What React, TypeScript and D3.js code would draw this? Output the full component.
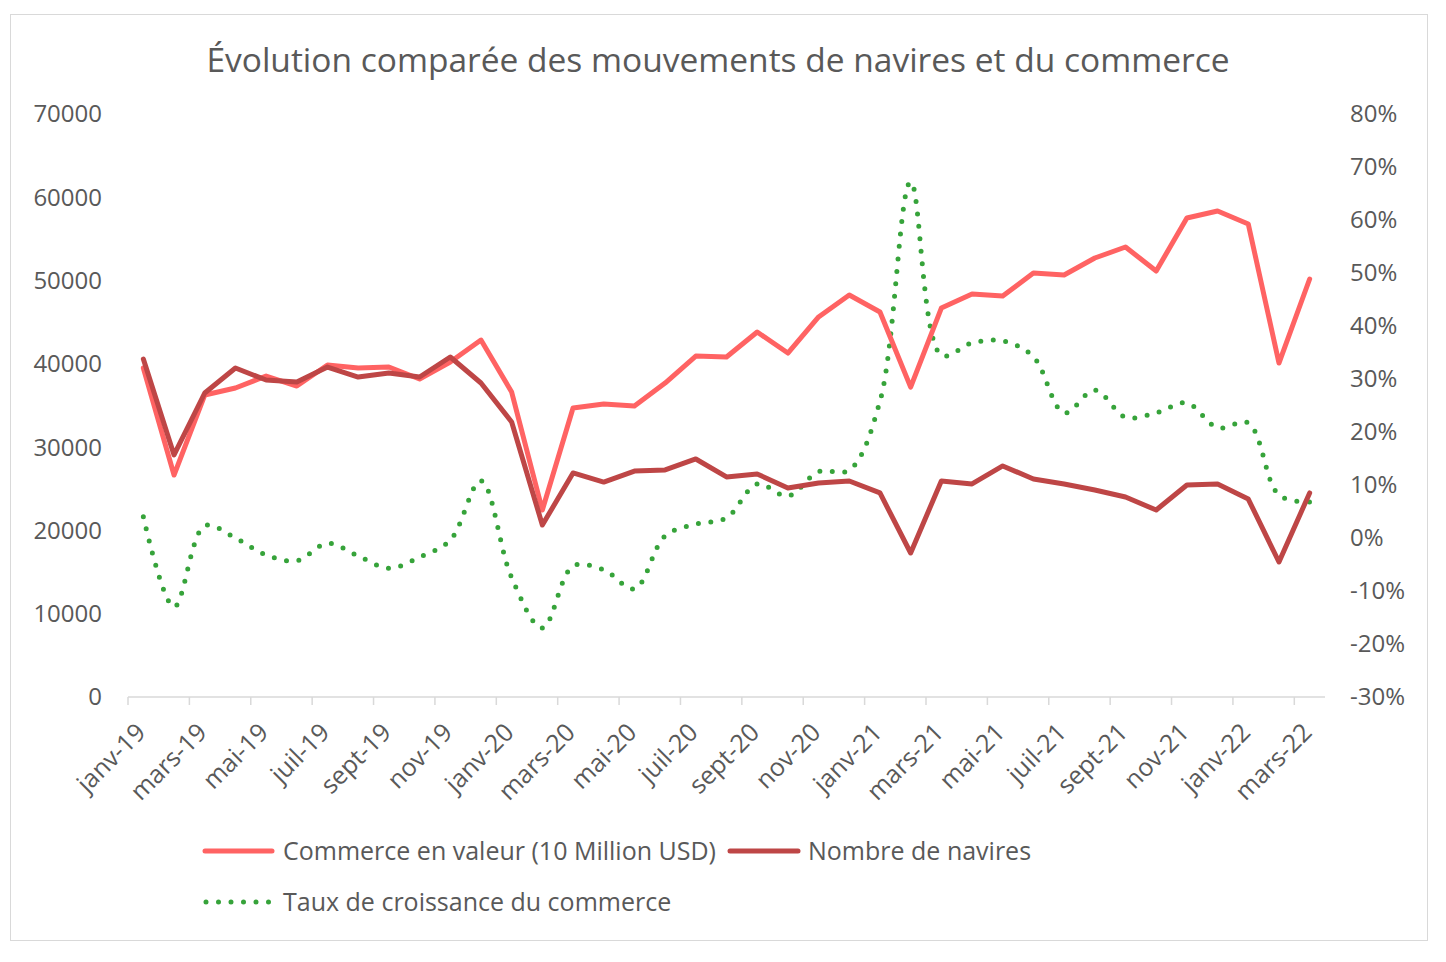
import * as d3 from "d3";

const MONTHS = [
  "janv-19", "févr-19", "mars-19", "avr-19", "mai-19", "juin-19", "juil-19", "août-19", "sept-19", "oct-19", "nov-19", "déc-19",
  "janv-20", "févr-20", "mars-20", "avr-20", "mai-20", "juin-20", "juil-20", "août-20", "sept-20", "oct-20", "nov-20", "déc-20",
  "janv-21", "févr-21", "mars-21", "avr-21", "mai-21", "juin-21", "juil-21", "août-21", "sept-21", "oct-21", "nov-21", "déc-21",
  "janv-22", "févr-22", "mars-22",
];

// Commerce en valeur (10 Million USD)
const COMMERCE = [
  39500, 26650, 36260, 37100, 38540, 37340, 39860, 39500, 39620, 38180, 40220, 42860,
  36620, 22450, 34700, 35180, 34940, 37700, 40940, 40820, 43820, 41300, 45630, 48270,
  46230, 37200, 46700, 48390, 48150, 50910, 50670, 52710, 54030, 51150, 57510, 58350,
  56790, 40100, 50190,
];

// Nombre de navires
const NAVIRES = [
  40580, 29060, 36500, 39500, 38060, 37820, 39620, 38420, 38900, 38420, 40820, 37700,
  33020, 20650, 26900, 25810, 27130, 27260, 28580, 26420, 26780, 25100, 25700, 25940,
  24500, 17290, 25940, 25580, 27740, 26180, 25580, 24850, 24010, 22450, 25450, 25580,
  23770, 16210, 24500,
];

// Taux de croissance du commerce
const CROISSANCE = [
  0.04, -0.13, 0.023, 0.0, -0.032, -0.043, -0.01, -0.034, -0.057, -0.036, -0.004, 0.108,
  -0.075, -0.17, -0.053, -0.06, -0.096, 0.004, 0.026, 0.038, 0.102, 0.079, 0.125, 0.128,
  0.258, 0.672, 0.345, 0.368, 0.372, 0.342, 0.236, 0.279, 0.228, 0.236, 0.255, 0.208,
  0.217, 0.081, 0.068,
];

const LEFT_TICKS = [0, 10000, 20000, 30000, 40000, 50000, 60000, 70000];
const RIGHT_TICKS = [-0.3, -0.2, -0.1, 0, 0.1, 0.2, 0.3, 0.4, 0.5, 0.6, 0.7, 0.8];

const WIDTH = 1446;
const HEIGHT = 962;
const PLOT = { left: 128, right: 1325, top: 114, bottom: 697 };

const COLORS = {
  commerce: "#FF6363",
  navires: "#BE4646",
  croissance: "#36A33A",
  text: "#595959",
  axis: "#D9D9D9",
};

const FONT = "'Open Sans', 'DejaVu Sans', sans-serif";

// Excel style percent, with a plain hyphen for negatives
const pct = (v: number) => `${Math.round(v * 100)}%`;

export default function App() {
  const x = d3
    .scaleLinear()
    .domain([-0.5, MONTHS.length - 0.5])
    .range([PLOT.left, PLOT.right]);
  const yLeft = d3.scaleLinear().domain([0, 70000]).range([PLOT.bottom, PLOT.top]);
  const yRight = d3.scaleLinear().domain([-0.3, 0.8]).range([PLOT.bottom, PLOT.top]);

  const straight = (vals: number[], y: d3.ScaleLinear<number, number>) =>
    d3
      .line<number>()
      .x((_, i) => x(i))
      .y(d => y(d))(vals) ?? "";

  const smooth =
    d3
      .line<number>()
      .x((_, i) => x(i))
      .y(d => yRight(d))
      .curve(d3.curveCatmullRom.alpha(0.5))(CROISSANCE) ?? "";

  // labels every second month, ticks on month boundaries
  const labelIdx = MONTHS.map((_, i) => i).filter(i => i % 2 === 0);

  return (
    <div style={{ position: "absolute", left: 0, top: 0 }}>
      <svg width={WIDTH} height={HEIGHT} style={{ display: "block", fontFamily: FONT }}>
        <rect x={0} y={0} width={WIDTH} height={HEIGHT} fill="white" />
        <rect x={10.5} y={14.5} width={1417} height={926} fill="white" stroke="#D9D9D9" strokeWidth={1} />

        <text x={718} y={72} textAnchor="middle" fontSize={33.5} fill={COLORS.text}>
          Évolution comparée des mouvements de navires et du commerce
        </text>

        {/* left axis */}
        {LEFT_TICKS.map(t => (
          <text key={t} x={102} y={yLeft(t)} dy="0.35em" textAnchor="end" fontSize={24} fill={COLORS.text}>
            {t}
          </text>
        ))}

        {/* right axis */}
        {RIGHT_TICKS.map(t => (
          <text key={t} x={1350} y={yRight(t)} dy="0.35em" textAnchor="start" fontSize={24} fill={COLORS.text}>
            {pct(t)}
          </text>
        ))}

        {/* x axis */}
        <line x1={PLOT.left} x2={PLOT.right} y1={PLOT.bottom} y2={PLOT.bottom} stroke={COLORS.axis} strokeWidth={1.5} />
        {labelIdx.map(i => (
          <g key={i} transform={`translate(${x(i - 0.5)},${PLOT.bottom})`}>
            <line y2={8} stroke={COLORS.axis} strokeWidth={1.5} />
            <text
              transform="translate(19,37) rotate(-45)"
              textAnchor="end"
              fontSize={25}
              fill={COLORS.text}
            >
              {MONTHS[i]}
            </text>
          </g>
        ))}

        {/* series */}
        <path d={smooth} fill="none" stroke={COLORS.croissance} strokeWidth={5} strokeDasharray="0 12.5" strokeLinecap="round" />
        <path d={straight(COMMERCE, yLeft)} fill="none" stroke={COLORS.commerce} strokeWidth={5} strokeLinejoin="round" strokeLinecap="round" />
        <path d={straight(NAVIRES, yLeft)} fill="none" stroke={COLORS.navires} strokeWidth={5} strokeLinejoin="round" strokeLinecap="round" />

        {/* legend */}
        <g fontSize={25} fill={COLORS.text}>
          <line x1={205} x2={272} y1={851} y2={851} stroke={COLORS.commerce} strokeWidth={5} strokeLinecap="round" />
          <text x={283} y={851} dy="0.35em">Commerce en valeur (10 Million USD)</text>
          <line x1={730} x2={798} y1={851} y2={851} stroke={COLORS.navires} strokeWidth={5} strokeLinecap="round" />
          <text x={808} y={851} dy="0.35em">Nombre de navires</text>
          <line x1={206} x2={270} y1={902} y2={902} stroke={COLORS.croissance} strokeWidth={5} strokeDasharray="0 12.5" strokeLinecap="round" />
          <text x={283} y={902} dy="0.35em">Taux de croissance du commerce</text>
        </g>
      </svg>
    </div>
  );
}
